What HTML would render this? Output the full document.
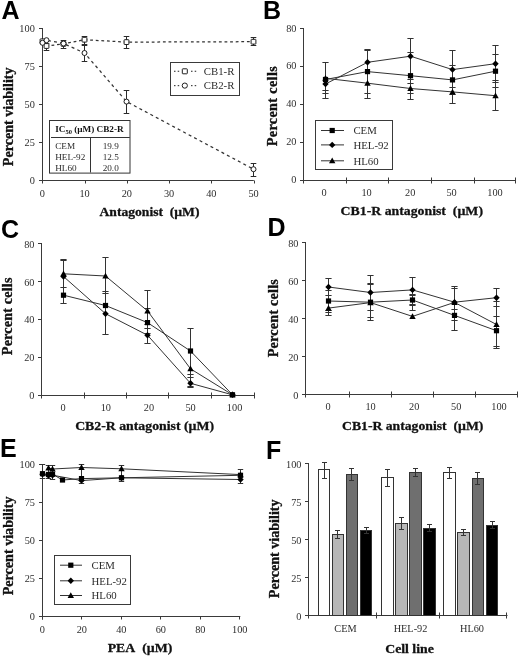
<!DOCTYPE html>
<html><head><meta charset="utf-8"><style>
html,body{margin:0;padding:0;background:#fff;}
svg{display:block;filter:blur(0.3px);}
</style></head><body>
<svg width="520" height="657" viewBox="0 0 520 657">
<rect width="520" height="657" fill="#fff"/>
<text x="1.5" y="19" font-family='"Liberation Sans", sans-serif' font-size="25" font-weight="bold" text-anchor="start" fill="#000">A</text>
<text x="263" y="19" font-family='"Liberation Sans", sans-serif' font-size="25" font-weight="bold" text-anchor="start" fill="#000">B</text>
<text x="1" y="237.6" font-family='"Liberation Sans", sans-serif' font-size="25" font-weight="bold" text-anchor="start" fill="#000">C</text>
<text x="267.5" y="236" font-family='"Liberation Sans", sans-serif' font-size="25" font-weight="bold" text-anchor="start" fill="#000">D</text>
<text x="0" y="457" font-family='"Liberation Sans", sans-serif' font-size="25" font-weight="bold" text-anchor="start" fill="#000">E</text>
<text x="266" y="459" font-family='"Liberation Sans", sans-serif' font-size="25" font-weight="bold" text-anchor="start" fill="#000">F</text>
<line x1="42.5" y1="28" x2="42.5" y2="183" stroke="#3a3a3a" stroke-width="1"/>
<line x1="39" y1="180.5" x2="253.8" y2="180.5" stroke="#3a3a3a" stroke-width="1"/>
<line x1="39" y1="180.5" x2="42.5" y2="180.5" stroke="#3a3a3a" stroke-width="1"/>
<text x="34.8" y="183.7" font-family='"Liberation Serif", serif' font-size="10.3" font-weight="normal" text-anchor="end" fill="#2c2c2c">0</text>
<line x1="39" y1="142.5" x2="42.5" y2="142.5" stroke="#3a3a3a" stroke-width="1"/>
<text x="34.8" y="145.75" font-family='"Liberation Serif", serif' font-size="10.3" font-weight="normal" text-anchor="end" fill="#2c2c2c">25</text>
<line x1="39" y1="104.5" x2="42.5" y2="104.5" stroke="#3a3a3a" stroke-width="1"/>
<text x="34.8" y="107.8" font-family='"Liberation Serif", serif' font-size="10.3" font-weight="normal" text-anchor="end" fill="#2c2c2c">50</text>
<line x1="39" y1="66.5" x2="42.5" y2="66.5" stroke="#3a3a3a" stroke-width="1"/>
<text x="34.8" y="69.85" font-family='"Liberation Serif", serif' font-size="10.3" font-weight="normal" text-anchor="end" fill="#2c2c2c">75</text>
<line x1="39" y1="28.5" x2="42.5" y2="28.5" stroke="#3a3a3a" stroke-width="1"/>
<text x="34.8" y="31.9" font-family='"Liberation Serif", serif' font-size="10.3" font-weight="normal" text-anchor="end" fill="#2c2c2c">100</text>
<line x1="42.5" y1="180.5" x2="42.5" y2="183.5" stroke="#3a3a3a" stroke-width="1"/>
<text x="42.3" y="196.6" font-family='"Liberation Serif", serif' font-size="10.3" font-weight="normal" text-anchor="middle" fill="#2c2c2c">0</text>
<line x1="85.5" y1="180.5" x2="85.5" y2="183.5" stroke="#3a3a3a" stroke-width="1"/>
<text x="84.55" y="196.6" font-family='"Liberation Serif", serif' font-size="10.3" font-weight="normal" text-anchor="middle" fill="#2c2c2c">10</text>
<line x1="127.5" y1="180.5" x2="127.5" y2="183.5" stroke="#3a3a3a" stroke-width="1"/>
<text x="126.8" y="196.6" font-family='"Liberation Serif", serif' font-size="10.3" font-weight="normal" text-anchor="middle" fill="#2c2c2c">20</text>
<line x1="169.5" y1="180.5" x2="169.5" y2="183.5" stroke="#3a3a3a" stroke-width="1"/>
<text x="169.05" y="196.6" font-family='"Liberation Serif", serif' font-size="10.3" font-weight="normal" text-anchor="middle" fill="#2c2c2c">30</text>
<line x1="211.5" y1="180.5" x2="211.5" y2="183.5" stroke="#3a3a3a" stroke-width="1"/>
<text x="211.3" y="196.6" font-family='"Liberation Serif", serif' font-size="10.3" font-weight="normal" text-anchor="middle" fill="#2c2c2c">40</text>
<line x1="254.5" y1="180.5" x2="254.5" y2="183.5" stroke="#3a3a3a" stroke-width="1"/>
<text x="253.55" y="196.6" font-family='"Liberation Serif", serif' font-size="10.3" font-weight="normal" text-anchor="middle" fill="#2c2c2c">50</text>
<text x="0" y="0" font-family='"Liberation Serif", serif' font-size="13.6" font-weight="bold" text-anchor="middle" fill="#111" stroke="#111" stroke-width="0.3" transform="translate(149.5 215.8) scale(1 0.88)">Antagonist&#160; (µM)</text>
<text x="12.6" y="116.8" font-family='"Liberation Serif", serif' font-size="14.1" font-weight="bold" text-anchor="middle" fill="#111" stroke="#111" stroke-width="0.3" transform="rotate(-90 12.6 116.8)">Percent viability</text>
<line x1="46.5" y1="43.5" x2="46.5" y2="50.5" stroke="#2a2a2a" stroke-width="1"/>
<line x1="43.7" y1="43.5" x2="49.3" y2="43.5" stroke="#2a2a2a" stroke-width="1"/>
<line x1="43.7" y1="50.5" x2="49.3" y2="50.5" stroke="#2a2a2a" stroke-width="1"/>
<line x1="63.5" y1="40.5" x2="63.5" y2="48.5" stroke="#2a2a2a" stroke-width="1"/>
<line x1="60.7" y1="40.5" x2="66.3" y2="40.5" stroke="#2a2a2a" stroke-width="1"/>
<line x1="60.7" y1="48.5" x2="66.3" y2="48.5" stroke="#2a2a2a" stroke-width="1"/>
<line x1="84.5" y1="36.5" x2="84.5" y2="61.5" stroke="#2a2a2a" stroke-width="1"/>
<line x1="81.7" y1="36.5" x2="87.3" y2="36.5" stroke="#2a2a2a" stroke-width="1"/>
<line x1="81.7" y1="44.5" x2="87.3" y2="44.5" stroke="#2a2a2a" stroke-width="1"/>
<line x1="81.7" y1="45.5" x2="87.3" y2="45.5" stroke="#2a2a2a" stroke-width="1"/>
<line x1="81.7" y1="61.5" x2="87.3" y2="61.5" stroke="#2a2a2a" stroke-width="1"/>
<line x1="126.5" y1="36.5" x2="126.5" y2="48.5" stroke="#2a2a2a" stroke-width="1"/>
<line x1="123.7" y1="36.5" x2="129.3" y2="36.5" stroke="#2a2a2a" stroke-width="1"/>
<line x1="123.7" y1="48.5" x2="129.3" y2="48.5" stroke="#2a2a2a" stroke-width="1"/>
<line x1="126.5" y1="90.5" x2="126.5" y2="113.5" stroke="#2a2a2a" stroke-width="1"/>
<line x1="123.7" y1="90.5" x2="129.3" y2="90.5" stroke="#2a2a2a" stroke-width="1"/>
<line x1="123.7" y1="113.5" x2="129.3" y2="113.5" stroke="#2a2a2a" stroke-width="1"/>
<line x1="253.5" y1="37.5" x2="253.5" y2="45.5" stroke="#2a2a2a" stroke-width="1"/>
<line x1="250.7" y1="37.5" x2="256.3" y2="37.5" stroke="#2a2a2a" stroke-width="1"/>
<line x1="250.7" y1="45.5" x2="256.3" y2="45.5" stroke="#2a2a2a" stroke-width="1"/>
<line x1="253.5" y1="163.5" x2="253.5" y2="176.5" stroke="#2a2a2a" stroke-width="1"/>
<line x1="250.7" y1="163.5" x2="256.3" y2="163.5" stroke="#2a2a2a" stroke-width="1"/>
<line x1="250.7" y1="176.5" x2="256.3" y2="176.5" stroke="#2a2a2a" stroke-width="1"/>
<polyline points="42.5,41.3 46.5,46 63.5,43.9 84.5,39.7 126.5,42.1 253.5,41.7" fill="none" stroke="#333" stroke-width="1.25" stroke-dasharray="2.8 2.8"/>
<polyline points="42.5,42.8 46.5,40.2 63.5,43.5 84.5,53 126.5,101.6 253.5,169.2" fill="none" stroke="#333" stroke-width="1.25" stroke-dasharray="3 3.2"/>
<rect x="40.1" y="38.9" width="4.8" height="4.8" rx="0.5" fill="#fff" stroke="#1e1e1e" stroke-width="1"/>
<rect x="44.1" y="43.6" width="4.8" height="4.8" rx="0.5" fill="#fff" stroke="#1e1e1e" stroke-width="1"/>
<rect x="61.1" y="41.5" width="4.8" height="4.8" rx="0.5" fill="#fff" stroke="#1e1e1e" stroke-width="1"/>
<rect x="82.1" y="37.3" width="4.8" height="4.8" rx="0.5" fill="#fff" stroke="#1e1e1e" stroke-width="1"/>
<rect x="124.1" y="39.7" width="4.8" height="4.8" rx="0.5" fill="#fff" stroke="#1e1e1e" stroke-width="1"/>
<rect x="251.1" y="39.3" width="4.8" height="4.8" rx="0.5" fill="#fff" stroke="#1e1e1e" stroke-width="1"/>
<circle cx="42.5" cy="42.8" r="2.5" fill="#fff" stroke="#1e1e1e" stroke-width="1"/>
<circle cx="46.5" cy="40.2" r="2.5" fill="#fff" stroke="#1e1e1e" stroke-width="1"/>
<circle cx="63.5" cy="43.5" r="2.5" fill="#fff" stroke="#1e1e1e" stroke-width="1"/>
<circle cx="84.5" cy="53" r="2.5" fill="#fff" stroke="#1e1e1e" stroke-width="1"/>
<circle cx="126.5" cy="101.6" r="2.5" fill="#fff" stroke="#1e1e1e" stroke-width="1"/>
<circle cx="253.5" cy="169.2" r="2.5" fill="#fff" stroke="#1e1e1e" stroke-width="1"/>
<rect x="170.5" y="62.5" width="69" height="33" fill="none" stroke="#3a3a3a" stroke-width="1"/>
<rect x="174.0" y="70.7" width="1.5" height="1.2" fill="#444"/>
<rect x="177.7" y="70.7" width="1.5" height="1.2" fill="#444"/>
<rect x="191.0" y="70.7" width="1.5" height="1.2" fill="#444"/>
<rect x="194.7" y="70.7" width="1.5" height="1.2" fill="#444"/>
<rect x="182.3" y="68.8" width="5" height="5" rx="0.6" fill="#fff" stroke="#1e1e1e" stroke-width="1"/>
<rect x="174.0" y="85" width="1.5" height="1.2" fill="#444"/>
<rect x="177.7" y="85" width="1.5" height="1.2" fill="#444"/>
<rect x="191.0" y="85" width="1.5" height="1.2" fill="#444"/>
<rect x="194.7" y="85" width="1.5" height="1.2" fill="#444"/>
<circle cx="184.8" cy="85.6" r="2.6" fill="#fff" stroke="#1e1e1e" stroke-width="1"/>
<text x="203.8" y="75" font-family='"Liberation Serif", serif' font-size="10.8" font-weight="normal" text-anchor="start" fill="#2c2c2c">CB1-R</text>
<text x="203.8" y="89.3" font-family='"Liberation Serif", serif' font-size="10.8" font-weight="normal" text-anchor="start" fill="#2c2c2c">CB2-R</text>
<rect x="49.5" y="120.5" width="80.5" height="52.6" fill="none" stroke="#333" stroke-width="1"/>
<line x1="51" y1="137.5" x2="129.8" y2="137.5" stroke="#333" stroke-width="1"/>
<line x1="90.5" y1="137.5" x2="90.5" y2="172.5" stroke="#333" stroke-width="1"/>
<text x="55.2" y="131.8" font-family='"Liberation Serif", serif' font-size="9.2" font-weight="bold" fill="#111">IC<tspan font-size="6.5" dy="2.5">50</tspan><tspan dy="-2.5"> (µM) CB2-R</tspan></text>
<text x="55.2" y="149" font-family='"Liberation Serif", serif' font-size="9.2" font-weight="normal" text-anchor="start" fill="#2c2c2c">CEM</text>
<text x="110.7" y="149" font-family='"Liberation Serif", serif' font-size="9.2" font-weight="normal" text-anchor="middle" fill="#2c2c2c">19.9</text>
<text x="55.2" y="159.9" font-family='"Liberation Serif", serif' font-size="9.2" font-weight="normal" text-anchor="start" fill="#2c2c2c">HEL-92</text>
<text x="110.7" y="159.9" font-family='"Liberation Serif", serif' font-size="9.2" font-weight="normal" text-anchor="middle" fill="#2c2c2c">12.5</text>
<text x="55.2" y="170.8" font-family='"Liberation Serif", serif' font-size="9.2" font-weight="normal" text-anchor="start" fill="#2c2c2c">HL60</text>
<text x="110.7" y="170.8" font-family='"Liberation Serif", serif' font-size="9.2" font-weight="normal" text-anchor="middle" fill="#2c2c2c">20.0</text>
<line x1="303.5" y1="28" x2="303.5" y2="183.5" stroke="#3a3a3a" stroke-width="1"/>
<line x1="300" y1="180.5" x2="515.6" y2="180.5" stroke="#3a3a3a" stroke-width="1"/>
<line x1="300" y1="180.5" x2="303.5" y2="180.5" stroke="#3a3a3a" stroke-width="1"/>
<text x="296.5" y="183.1" font-family='"Liberation Serif", serif' font-size="10.3" font-weight="normal" text-anchor="end" fill="#303030">0</text>
<line x1="300" y1="142.5" x2="303.5" y2="142.5" stroke="#3a3a3a" stroke-width="1"/>
<text x="296.5" y="145.2" font-family='"Liberation Serif", serif' font-size="10.3" font-weight="normal" text-anchor="end" fill="#303030">20</text>
<line x1="300" y1="104.5" x2="303.5" y2="104.5" stroke="#3a3a3a" stroke-width="1"/>
<text x="296.5" y="107.3" font-family='"Liberation Serif", serif' font-size="10.3" font-weight="normal" text-anchor="end" fill="#303030">40</text>
<line x1="300" y1="66.5" x2="303.5" y2="66.5" stroke="#3a3a3a" stroke-width="1"/>
<text x="296.5" y="69.4" font-family='"Liberation Serif", serif' font-size="10.3" font-weight="normal" text-anchor="end" fill="#303030">60</text>
<line x1="300" y1="28.5" x2="303.5" y2="28.5" stroke="#3a3a3a" stroke-width="1"/>
<text x="296.5" y="31.5" font-family='"Liberation Serif", serif' font-size="10.3" font-weight="normal" text-anchor="end" fill="#303030">80</text>
<line x1="346.5" y1="177.5" x2="346.5" y2="183.5" stroke="#3a3a3a" stroke-width="1"/>
<line x1="388.5" y1="177.5" x2="388.5" y2="183.5" stroke="#3a3a3a" stroke-width="1"/>
<line x1="431.5" y1="177.5" x2="431.5" y2="183.5" stroke="#3a3a3a" stroke-width="1"/>
<line x1="474.5" y1="177.5" x2="474.5" y2="183.5" stroke="#3a3a3a" stroke-width="1"/>
<line x1="515.5" y1="177.5" x2="515.5" y2="183.5" stroke="#3a3a3a" stroke-width="1"/>
<text x="324.2" y="196.3" font-family='"Liberation Serif", serif' font-size="10.3" font-weight="normal" text-anchor="middle" fill="#303030">0</text>
<text x="366.6" y="196.3" font-family='"Liberation Serif", serif' font-size="10.3" font-weight="normal" text-anchor="middle" fill="#303030">10</text>
<text x="410.2" y="196.3" font-family='"Liberation Serif", serif' font-size="10.3" font-weight="normal" text-anchor="middle" fill="#303030">20</text>
<text x="451.6" y="196.3" font-family='"Liberation Serif", serif' font-size="10.3" font-weight="normal" text-anchor="middle" fill="#303030">50</text>
<text x="495" y="196.3" font-family='"Liberation Serif", serif' font-size="10.3" font-weight="normal" text-anchor="middle" fill="#303030">100</text>
<text x="0" y="0" font-family='"Liberation Serif", serif' font-size="13.8" font-weight="bold" text-anchor="middle" fill="#111" stroke="#111" stroke-width="0.3" transform="translate(411.8 214.7) scale(1 0.87)" xml:space="preserve">CB1-R antagonist&#160; (µM)</text>
<text x="277.2" y="106.1" font-family='"Liberation Serif", serif' font-size="14.2" font-weight="bold" text-anchor="middle" fill="#111" stroke="#111" stroke-width="0.3" transform="rotate(-90 277.2 106.1)" letter-spacing="0.35">Percent cells</text>
<line x1="325.5" y1="62.5" x2="325.5" y2="98.5" stroke="#333" stroke-width="1"/>
<line x1="322.4" y1="62.5" x2="328.6" y2="62.5" stroke="#333" stroke-width="1"/>
<line x1="322.4" y1="90.5" x2="328.6" y2="90.5" stroke="#333" stroke-width="1"/>
<line x1="322.4" y1="93.5" x2="328.6" y2="93.5" stroke="#333" stroke-width="1"/>
<line x1="322.4" y1="98.5" x2="328.6" y2="98.5" stroke="#333" stroke-width="1"/>
<line x1="367.5" y1="49.5" x2="367.5" y2="98.5" stroke="#333" stroke-width="1"/>
<line x1="364.4" y1="49.5" x2="370.6" y2="49.5" stroke="#333" stroke-width="1"/>
<line x1="364.4" y1="50.5" x2="370.6" y2="50.5" stroke="#333" stroke-width="1"/>
<line x1="364.4" y1="93.5" x2="370.6" y2="93.5" stroke="#333" stroke-width="1"/>
<line x1="364.4" y1="98.5" x2="370.6" y2="98.5" stroke="#333" stroke-width="1"/>
<line x1="410.5" y1="38.5" x2="410.5" y2="99.5" stroke="#333" stroke-width="1"/>
<line x1="407.4" y1="38.5" x2="413.6" y2="38.5" stroke="#333" stroke-width="1"/>
<line x1="407.4" y1="52.5" x2="413.6" y2="52.5" stroke="#333" stroke-width="1"/>
<line x1="407.4" y1="79.5" x2="413.6" y2="79.5" stroke="#333" stroke-width="1"/>
<line x1="407.4" y1="83.5" x2="413.6" y2="83.5" stroke="#333" stroke-width="1"/>
<line x1="407.4" y1="93.5" x2="413.6" y2="93.5" stroke="#333" stroke-width="1"/>
<line x1="407.4" y1="99.5" x2="413.6" y2="99.5" stroke="#333" stroke-width="1"/>
<line x1="452.5" y1="50.5" x2="452.5" y2="103.5" stroke="#333" stroke-width="1"/>
<line x1="449.4" y1="50.5" x2="455.6" y2="50.5" stroke="#333" stroke-width="1"/>
<line x1="449.4" y1="65.5" x2="455.6" y2="65.5" stroke="#333" stroke-width="1"/>
<line x1="449.4" y1="87.5" x2="455.6" y2="87.5" stroke="#333" stroke-width="1"/>
<line x1="449.4" y1="94.5" x2="455.6" y2="94.5" stroke="#333" stroke-width="1"/>
<line x1="449.4" y1="103.5" x2="455.6" y2="103.5" stroke="#333" stroke-width="1"/>
<line x1="495.5" y1="45.5" x2="495.5" y2="110.5" stroke="#333" stroke-width="1"/>
<line x1="492.4" y1="45.5" x2="498.6" y2="45.5" stroke="#333" stroke-width="1"/>
<line x1="492.4" y1="54.5" x2="498.6" y2="54.5" stroke="#333" stroke-width="1"/>
<line x1="492.4" y1="80.5" x2="498.6" y2="80.5" stroke="#333" stroke-width="1"/>
<line x1="492.4" y1="82.5" x2="498.6" y2="82.5" stroke="#333" stroke-width="1"/>
<line x1="492.4" y1="87.5" x2="498.6" y2="87.5" stroke="#333" stroke-width="1"/>
<line x1="492.4" y1="110.5" x2="498.6" y2="110.5" stroke="#333" stroke-width="1"/>
<polyline points="325.5,79.5 367.5,71.6 410.5,75.7 452.5,79.9 495.5,71.2" fill="none" stroke="#333" stroke-width="1"/>
<polyline points="325.5,84 367.5,62.3 410.5,56.2 452.5,69.6 495.5,63.7" fill="none" stroke="#333" stroke-width="1"/>
<polyline points="325.5,78.3 367.5,83.2 410.5,88.5 452.5,91.9 495.5,95.7" fill="none" stroke="#333" stroke-width="1"/>
<rect x="322.9" y="76.9" width="5.2" height="5.2" fill="#000" stroke="none" stroke-width="1"/>
<rect x="364.9" y="69" width="5.2" height="5.2" fill="#000" stroke="none" stroke-width="1"/>
<rect x="407.9" y="73.1" width="5.2" height="5.2" fill="#000" stroke="none" stroke-width="1"/>
<rect x="449.9" y="77.3" width="5.2" height="5.2" fill="#000" stroke="none" stroke-width="1"/>
<rect x="492.9" y="68.6" width="5.2" height="5.2" fill="#000" stroke="none" stroke-width="1"/>
<path d="M325.5 80.8L328.7 84L325.5 87.2L322.3 84Z" fill="#000"/>
<path d="M367.5 59.1L370.7 62.3L367.5 65.5L364.3 62.3Z" fill="#000"/>
<path d="M410.5 53L413.7 56.2L410.5 59.4L407.3 56.2Z" fill="#000"/>
<path d="M452.5 66.4L455.7 69.6L452.5 72.8L449.3 69.6Z" fill="#000"/>
<path d="M495.5 60.5L498.7 63.7L495.5 66.9L492.3 63.7Z" fill="#000"/>
<path d="M325.5 75.1L328.7 80.86L322.3 80.86Z" fill="#000"/>
<path d="M367.5 80L370.7 85.76L364.3 85.76Z" fill="#000"/>
<path d="M410.5 85.3L413.7 91.06L407.3 91.06Z" fill="#000"/>
<path d="M452.5 88.7L455.7 94.46L449.3 94.46Z" fill="#000"/>
<path d="M495.5 92.5L498.7 98.26L492.3 98.26Z" fill="#000"/>
<rect x="315.5" y="120.5" width="77" height="49" fill="none" stroke="#3a3a3a" stroke-width="1"/>
<line x1="321" y1="130.5" x2="344" y2="130.5" stroke="#333" stroke-width="1"/>
<rect x="329.6" y="127.9" width="5.2" height="5.2" fill="#000" stroke="none" stroke-width="1"/>
<text x="353.4" y="134.2" font-family='"Liberation Serif", serif' font-size="10.8" font-weight="normal" text-anchor="start" fill="#2c2c2c">CEM</text>
<line x1="321" y1="144.9" x2="344" y2="144.9" stroke="#333" stroke-width="1"/>
<path d="M332.2 141.7L335.4 144.9L332.2 148.1L329 144.9Z" fill="#000"/>
<text x="353.4" y="148.6" font-family='"Liberation Serif", serif' font-size="10.8" font-weight="normal" text-anchor="start" fill="#2c2c2c">HEL-92</text>
<line x1="321" y1="160.8" x2="344" y2="160.8" stroke="#333" stroke-width="1"/>
<path d="M332.2 157.6L335.4 163.36L329 163.36Z" fill="#000"/>
<text x="353.4" y="164.5" font-family='"Liberation Serif", serif' font-size="10.8" font-weight="normal" text-anchor="start" fill="#2c2c2c">HL60</text>
<line x1="41.5" y1="243" x2="41.5" y2="398.5" stroke="#3a3a3a" stroke-width="1"/>
<line x1="38" y1="395.5" x2="254" y2="395.5" stroke="#3a3a3a" stroke-width="1"/>
<line x1="38" y1="395.5" x2="41.5" y2="395.5" stroke="#3a3a3a" stroke-width="1"/>
<text x="34.5" y="399.2" font-family='"Liberation Serif", serif' font-size="10.3" font-weight="normal" text-anchor="end" fill="#303030">0</text>
<line x1="38" y1="357.5" x2="41.5" y2="357.5" stroke="#3a3a3a" stroke-width="1"/>
<text x="34.5" y="361.3" font-family='"Liberation Serif", serif' font-size="10.3" font-weight="normal" text-anchor="end" fill="#303030">20</text>
<line x1="38" y1="319.5" x2="41.5" y2="319.5" stroke="#3a3a3a" stroke-width="1"/>
<text x="34.5" y="323.4" font-family='"Liberation Serif", serif' font-size="10.3" font-weight="normal" text-anchor="end" fill="#303030">40</text>
<line x1="38" y1="281.5" x2="41.5" y2="281.5" stroke="#3a3a3a" stroke-width="1"/>
<text x="34.5" y="285.5" font-family='"Liberation Serif", serif' font-size="10.3" font-weight="normal" text-anchor="end" fill="#303030">60</text>
<line x1="38" y1="243.5" x2="41.5" y2="243.5" stroke="#3a3a3a" stroke-width="1"/>
<text x="34.5" y="247.6" font-family='"Liberation Serif", serif' font-size="10.3" font-weight="normal" text-anchor="end" fill="#303030">80</text>
<line x1="84.5" y1="392.5" x2="84.5" y2="398.5" stroke="#3a3a3a" stroke-width="1"/>
<line x1="126.5" y1="392.5" x2="126.5" y2="398.5" stroke="#3a3a3a" stroke-width="1"/>
<line x1="168.5" y1="392.5" x2="168.5" y2="398.5" stroke="#3a3a3a" stroke-width="1"/>
<line x1="211.5" y1="392.5" x2="211.5" y2="398.5" stroke="#3a3a3a" stroke-width="1"/>
<line x1="254.5" y1="392.5" x2="254.5" y2="398.5" stroke="#3a3a3a" stroke-width="1"/>
<text x="63" y="411.3" font-family='"Liberation Serif", serif' font-size="10.3" font-weight="normal" text-anchor="middle" fill="#303030">0</text>
<text x="105.8" y="411.3" font-family='"Liberation Serif", serif' font-size="10.3" font-weight="normal" text-anchor="middle" fill="#303030">10</text>
<text x="149" y="411.3" font-family='"Liberation Serif", serif' font-size="10.3" font-weight="normal" text-anchor="middle" fill="#303030">20</text>
<text x="190.6" y="411.3" font-family='"Liberation Serif", serif' font-size="10.3" font-weight="normal" text-anchor="middle" fill="#303030">50</text>
<text x="234.6" y="411.3" font-family='"Liberation Serif", serif' font-size="10.3" font-weight="normal" text-anchor="middle" fill="#303030">100</text>
<text x="0" y="0" font-family='"Liberation Serif", serif' font-size="13.8" font-weight="bold" text-anchor="middle" fill="#111" stroke="#111" stroke-width="0.3" transform="translate(144.6 430.4) scale(1 0.87)" xml:space="preserve">CB2-R antagonist (µM)</text>
<text x="12.5" y="316.3" font-family='"Liberation Serif", serif' font-size="14.2" font-weight="bold" text-anchor="middle" fill="#111" stroke="#111" stroke-width="0.3" transform="rotate(-90 12.5 316.3)" letter-spacing="0.15">Percent cells</text>
<line x1="63.5" y1="259.5" x2="63.5" y2="303.5" stroke="#333" stroke-width="1"/>
<line x1="60.4" y1="259.5" x2="66.6" y2="259.5" stroke="#333" stroke-width="1"/>
<line x1="60.4" y1="260.5" x2="66.6" y2="260.5" stroke="#333" stroke-width="1"/>
<line x1="60.4" y1="287.5" x2="66.6" y2="287.5" stroke="#333" stroke-width="1"/>
<line x1="60.4" y1="303.5" x2="66.6" y2="303.5" stroke="#333" stroke-width="1"/>
<line x1="105.5" y1="257.5" x2="105.5" y2="334.5" stroke="#333" stroke-width="1"/>
<line x1="102.4" y1="257.5" x2="108.6" y2="257.5" stroke="#333" stroke-width="1"/>
<line x1="102.4" y1="291.5" x2="108.6" y2="291.5" stroke="#333" stroke-width="1"/>
<line x1="102.4" y1="293.5" x2="108.6" y2="293.5" stroke="#333" stroke-width="1"/>
<line x1="102.4" y1="334.5" x2="108.6" y2="334.5" stroke="#333" stroke-width="1"/>
<line x1="147.5" y1="290.5" x2="147.5" y2="343.5" stroke="#333" stroke-width="1"/>
<line x1="144.4" y1="290.5" x2="150.6" y2="290.5" stroke="#333" stroke-width="1"/>
<line x1="144.4" y1="308.5" x2="150.6" y2="308.5" stroke="#333" stroke-width="1"/>
<line x1="144.4" y1="324.5" x2="150.6" y2="324.5" stroke="#333" stroke-width="1"/>
<line x1="144.4" y1="328.5" x2="150.6" y2="328.5" stroke="#333" stroke-width="1"/>
<line x1="144.4" y1="333.5" x2="150.6" y2="333.5" stroke="#333" stroke-width="1"/>
<line x1="144.4" y1="343.5" x2="150.6" y2="343.5" stroke="#333" stroke-width="1"/>
<line x1="190.5" y1="328.5" x2="190.5" y2="387.5" stroke="#333" stroke-width="1"/>
<line x1="187.4" y1="328.5" x2="193.6" y2="328.5" stroke="#333" stroke-width="1"/>
<line x1="187.4" y1="374.5" x2="193.6" y2="374.5" stroke="#333" stroke-width="1"/>
<line x1="187.4" y1="377.5" x2="193.6" y2="377.5" stroke="#333" stroke-width="1"/>
<line x1="187.4" y1="386.5" x2="193.6" y2="386.5" stroke="#333" stroke-width="1"/>
<line x1="187.4" y1="387.5" x2="193.6" y2="387.5" stroke="#333" stroke-width="1"/>
<polyline points="63.5,295.2 105.5,305.5 147.5,322.6 190.5,351 232.5,394.8" fill="none" stroke="#333" stroke-width="1"/>
<polyline points="63.5,276.5 105.5,313.7 147.5,335.2 190.5,383.3 232.5,394.8" fill="none" stroke="#333" stroke-width="1"/>
<polyline points="63.5,273.8 105.5,276 147.5,310.9 190.5,368.8 232.5,394.8" fill="none" stroke="#333" stroke-width="1"/>
<rect x="60.9" y="292.6" width="5.2" height="5.2" fill="#000" stroke="none" stroke-width="1"/>
<rect x="102.9" y="302.9" width="5.2" height="5.2" fill="#000" stroke="none" stroke-width="1"/>
<rect x="144.9" y="320" width="5.2" height="5.2" fill="#000" stroke="none" stroke-width="1"/>
<rect x="187.9" y="348.4" width="5.2" height="5.2" fill="#000" stroke="none" stroke-width="1"/>
<rect x="229.9" y="392.2" width="5.2" height="5.2" fill="#000" stroke="none" stroke-width="1"/>
<path d="M63.5 273.3L66.7 276.5L63.5 279.7L60.3 276.5Z" fill="#000"/>
<path d="M105.5 310.5L108.7 313.7L105.5 316.9L102.3 313.7Z" fill="#000"/>
<path d="M147.5 332L150.7 335.2L147.5 338.4L144.3 335.2Z" fill="#000"/>
<path d="M190.5 380.1L193.7 383.3L190.5 386.5L187.3 383.3Z" fill="#000"/>
<path d="M232.5 391.6L235.7 394.8L232.5 398L229.3 394.8Z" fill="#000"/>
<path d="M63.5 270.6L66.7 276.36L60.3 276.36Z" fill="#000"/>
<path d="M105.5 272.8L108.7 278.56L102.3 278.56Z" fill="#000"/>
<path d="M147.5 307.7L150.7 313.46L144.3 313.46Z" fill="#000"/>
<path d="M190.5 365.6L193.7 371.36L187.3 371.36Z" fill="#000"/>
<path d="M232.5 391.6L235.7 397.36L229.3 397.36Z" fill="#000"/>
<line x1="305.5" y1="242" x2="305.5" y2="397.5" stroke="#3a3a3a" stroke-width="1"/>
<line x1="302" y1="394.5" x2="517.3" y2="394.5" stroke="#3a3a3a" stroke-width="1"/>
<line x1="302" y1="394.5" x2="305.5" y2="394.5" stroke="#3a3a3a" stroke-width="1"/>
<text x="298.5" y="398.6" font-family='"Liberation Serif", serif' font-size="10.3" font-weight="normal" text-anchor="end" fill="#303030">0</text>
<line x1="302" y1="356.5" x2="305.5" y2="356.5" stroke="#3a3a3a" stroke-width="1"/>
<text x="298.5" y="360.65" font-family='"Liberation Serif", serif' font-size="10.3" font-weight="normal" text-anchor="end" fill="#303030">20</text>
<line x1="302" y1="318.5" x2="305.5" y2="318.5" stroke="#3a3a3a" stroke-width="1"/>
<text x="298.5" y="322.7" font-family='"Liberation Serif", serif' font-size="10.3" font-weight="normal" text-anchor="end" fill="#303030">40</text>
<line x1="302" y1="280.5" x2="305.5" y2="280.5" stroke="#3a3a3a" stroke-width="1"/>
<text x="298.5" y="284.75" font-family='"Liberation Serif", serif' font-size="10.3" font-weight="normal" text-anchor="end" fill="#303030">60</text>
<line x1="302" y1="242.5" x2="305.5" y2="242.5" stroke="#3a3a3a" stroke-width="1"/>
<text x="298.5" y="246.8" font-family='"Liberation Serif", serif' font-size="10.3" font-weight="normal" text-anchor="end" fill="#303030">80</text>
<line x1="349.5" y1="391.5" x2="349.5" y2="397.5" stroke="#3a3a3a" stroke-width="1"/>
<line x1="391.5" y1="391.5" x2="391.5" y2="397.5" stroke="#3a3a3a" stroke-width="1"/>
<line x1="433.5" y1="391.5" x2="433.5" y2="397.5" stroke="#3a3a3a" stroke-width="1"/>
<line x1="475.5" y1="391.5" x2="475.5" y2="397.5" stroke="#3a3a3a" stroke-width="1"/>
<line x1="517.5" y1="391.5" x2="517.5" y2="397.5" stroke="#3a3a3a" stroke-width="1"/>
<text x="328.2" y="410.3" font-family='"Liberation Serif", serif' font-size="10.3" font-weight="normal" text-anchor="middle" fill="#303030">0</text>
<text x="370.6" y="410.3" font-family='"Liberation Serif", serif' font-size="10.3" font-weight="normal" text-anchor="middle" fill="#303030">10</text>
<text x="414.2" y="410.3" font-family='"Liberation Serif", serif' font-size="10.3" font-weight="normal" text-anchor="middle" fill="#303030">20</text>
<text x="456.2" y="410.3" font-family='"Liberation Serif", serif' font-size="10.3" font-weight="normal" text-anchor="middle" fill="#303030">50</text>
<text x="499" y="410.3" font-family='"Liberation Serif", serif' font-size="10.3" font-weight="normal" text-anchor="middle" fill="#303030">100</text>
<text x="0" y="0" font-family='"Liberation Serif", serif' font-size="13.7" font-weight="bold" text-anchor="middle" fill="#111" stroke="#111" stroke-width="0.3" transform="translate(412.7 430.1) scale(1 0.87)" xml:space="preserve">CB1-R antagonist&#160; (µM)</text>
<text x="278.3" y="318.1" font-family='"Liberation Serif", serif' font-size="14.2" font-weight="bold" text-anchor="middle" fill="#111" stroke="#111" stroke-width="0.3" transform="rotate(-90 278.3 318.1)" letter-spacing="0.2">Percent cells</text>
<line x1="328.5" y1="278.5" x2="328.5" y2="315.5" stroke="#333" stroke-width="1"/>
<line x1="325.4" y1="278.5" x2="331.6" y2="278.5" stroke="#333" stroke-width="1"/>
<line x1="325.4" y1="290.5" x2="331.6" y2="290.5" stroke="#333" stroke-width="1"/>
<line x1="325.4" y1="295.5" x2="331.6" y2="295.5" stroke="#333" stroke-width="1"/>
<line x1="325.4" y1="310.5" x2="331.6" y2="310.5" stroke="#333" stroke-width="1"/>
<line x1="325.4" y1="312.5" x2="331.6" y2="312.5" stroke="#333" stroke-width="1"/>
<line x1="325.4" y1="315.5" x2="331.6" y2="315.5" stroke="#333" stroke-width="1"/>
<line x1="370.5" y1="275.5" x2="370.5" y2="320.5" stroke="#333" stroke-width="1"/>
<line x1="367.4" y1="275.5" x2="373.6" y2="275.5" stroke="#333" stroke-width="1"/>
<line x1="367.4" y1="283.5" x2="373.6" y2="283.5" stroke="#333" stroke-width="1"/>
<line x1="367.4" y1="284.5" x2="373.6" y2="284.5" stroke="#333" stroke-width="1"/>
<line x1="367.4" y1="310.5" x2="373.6" y2="310.5" stroke="#333" stroke-width="1"/>
<line x1="367.4" y1="317.5" x2="373.6" y2="317.5" stroke="#333" stroke-width="1"/>
<line x1="367.4" y1="320.5" x2="373.6" y2="320.5" stroke="#333" stroke-width="1"/>
<line x1="412.5" y1="277.5" x2="412.5" y2="310.5" stroke="#333" stroke-width="1"/>
<line x1="409.4" y1="277.5" x2="415.6" y2="277.5" stroke="#333" stroke-width="1"/>
<line x1="409.4" y1="294.5" x2="415.6" y2="294.5" stroke="#333" stroke-width="1"/>
<line x1="409.4" y1="295.5" x2="415.6" y2="295.5" stroke="#333" stroke-width="1"/>
<line x1="409.4" y1="304.5" x2="415.6" y2="304.5" stroke="#333" stroke-width="1"/>
<line x1="409.4" y1="305.5" x2="415.6" y2="305.5" stroke="#333" stroke-width="1"/>
<line x1="409.4" y1="310.5" x2="415.6" y2="310.5" stroke="#333" stroke-width="1"/>
<line x1="454.5" y1="286.5" x2="454.5" y2="330.5" stroke="#333" stroke-width="1"/>
<line x1="451.4" y1="286.5" x2="457.6" y2="286.5" stroke="#333" stroke-width="1"/>
<line x1="451.4" y1="288.5" x2="457.6" y2="288.5" stroke="#333" stroke-width="1"/>
<line x1="451.4" y1="309.5" x2="457.6" y2="309.5" stroke="#333" stroke-width="1"/>
<line x1="451.4" y1="320.5" x2="457.6" y2="320.5" stroke="#333" stroke-width="1"/>
<line x1="451.4" y1="330.5" x2="457.6" y2="330.5" stroke="#333" stroke-width="1"/>
<line x1="496.5" y1="288.5" x2="496.5" y2="348.5" stroke="#333" stroke-width="1"/>
<line x1="493.4" y1="288.5" x2="499.6" y2="288.5" stroke="#333" stroke-width="1"/>
<line x1="493.4" y1="301.5" x2="499.6" y2="301.5" stroke="#333" stroke-width="1"/>
<line x1="493.4" y1="306.5" x2="499.6" y2="306.5" stroke="#333" stroke-width="1"/>
<line x1="493.4" y1="316.5" x2="499.6" y2="316.5" stroke="#333" stroke-width="1"/>
<line x1="493.4" y1="346.5" x2="499.6" y2="346.5" stroke="#333" stroke-width="1"/>
<line x1="493.4" y1="348.5" x2="499.6" y2="348.5" stroke="#333" stroke-width="1"/>
<polyline points="328.5,301 370.5,302.2 412.5,300 454.5,315.4 496.5,330.7" fill="none" stroke="#333" stroke-width="1"/>
<polyline points="328.5,287 370.5,292.5 412.5,289.9 454.5,302.2 496.5,297.7" fill="none" stroke="#333" stroke-width="1"/>
<polyline points="328.5,308.1 370.5,302.6 412.5,316.4 454.5,302.4 496.5,324.5" fill="none" stroke="#333" stroke-width="1"/>
<rect x="325.9" y="298.4" width="5.2" height="5.2" fill="#000" stroke="none" stroke-width="1"/>
<rect x="367.9" y="299.6" width="5.2" height="5.2" fill="#000" stroke="none" stroke-width="1"/>
<rect x="409.9" y="297.4" width="5.2" height="5.2" fill="#000" stroke="none" stroke-width="1"/>
<rect x="451.9" y="312.8" width="5.2" height="5.2" fill="#000" stroke="none" stroke-width="1"/>
<rect x="493.9" y="328.1" width="5.2" height="5.2" fill="#000" stroke="none" stroke-width="1"/>
<path d="M328.5 283.8L331.7 287L328.5 290.2L325.3 287Z" fill="#000"/>
<path d="M370.5 289.3L373.7 292.5L370.5 295.7L367.3 292.5Z" fill="#000"/>
<path d="M412.5 286.7L415.7 289.9L412.5 293.1L409.3 289.9Z" fill="#000"/>
<path d="M454.5 299L457.7 302.2L454.5 305.4L451.3 302.2Z" fill="#000"/>
<path d="M496.5 294.5L499.7 297.7L496.5 300.9L493.3 297.7Z" fill="#000"/>
<path d="M328.5 304.9L331.7 310.66L325.3 310.66Z" fill="#000"/>
<path d="M370.5 299.4L373.7 305.16L367.3 305.16Z" fill="#000"/>
<path d="M412.5 313.2L415.7 318.96L409.3 318.96Z" fill="#000"/>
<path d="M454.5 299.2L457.7 304.96L451.3 304.96Z" fill="#000"/>
<path d="M496.5 321.3L499.7 327.06L493.3 327.06Z" fill="#000"/>
<line x1="42.5" y1="464" x2="42.5" y2="619.5" stroke="#3a3a3a" stroke-width="1"/>
<line x1="39" y1="616.5" x2="240.3" y2="616.5" stroke="#3a3a3a" stroke-width="1"/>
<line x1="39" y1="616.5" x2="42.5" y2="616.5" stroke="#3a3a3a" stroke-width="1"/>
<text x="35" y="619.8" font-family='"Liberation Serif", serif' font-size="10.3" font-weight="normal" text-anchor="end" fill="#2c2c2c">0</text>
<line x1="39" y1="578.5" x2="42.5" y2="578.5" stroke="#3a3a3a" stroke-width="1"/>
<text x="35" y="581.82" font-family='"Liberation Serif", serif' font-size="10.3" font-weight="normal" text-anchor="end" fill="#2c2c2c">25</text>
<line x1="39" y1="540.5" x2="42.5" y2="540.5" stroke="#3a3a3a" stroke-width="1"/>
<text x="35" y="543.85" font-family='"Liberation Serif", serif' font-size="10.3" font-weight="normal" text-anchor="end" fill="#2c2c2c">50</text>
<line x1="39" y1="502.5" x2="42.5" y2="502.5" stroke="#3a3a3a" stroke-width="1"/>
<text x="35" y="505.87" font-family='"Liberation Serif", serif' font-size="10.3" font-weight="normal" text-anchor="end" fill="#2c2c2c">75</text>
<line x1="39" y1="464.5" x2="42.5" y2="464.5" stroke="#3a3a3a" stroke-width="1"/>
<text x="35" y="467.9" font-family='"Liberation Serif", serif' font-size="10.3" font-weight="normal" text-anchor="end" fill="#2c2c2c">100</text>
<line x1="42.5" y1="616.5" x2="42.5" y2="619.5" stroke="#3a3a3a" stroke-width="1"/>
<text x="42.3" y="632.5" font-family='"Liberation Serif", serif' font-size="10.3" font-weight="normal" text-anchor="middle" fill="#2c2c2c">0</text>
<line x1="81.5" y1="616.5" x2="81.5" y2="619.5" stroke="#3a3a3a" stroke-width="1"/>
<text x="81.8" y="632.5" font-family='"Liberation Serif", serif' font-size="10.3" font-weight="normal" text-anchor="middle" fill="#2c2c2c">20</text>
<line x1="121.5" y1="616.5" x2="121.5" y2="619.5" stroke="#3a3a3a" stroke-width="1"/>
<text x="121.3" y="632.5" font-family='"Liberation Serif", serif' font-size="10.3" font-weight="normal" text-anchor="middle" fill="#2c2c2c">40</text>
<line x1="160.5" y1="616.5" x2="160.5" y2="619.5" stroke="#3a3a3a" stroke-width="1"/>
<text x="160.8" y="632.5" font-family='"Liberation Serif", serif' font-size="10.3" font-weight="normal" text-anchor="middle" fill="#2c2c2c">60</text>
<line x1="200.5" y1="616.5" x2="200.5" y2="619.5" stroke="#3a3a3a" stroke-width="1"/>
<text x="200.3" y="632.5" font-family='"Liberation Serif", serif' font-size="10.3" font-weight="normal" text-anchor="middle" fill="#2c2c2c">80</text>
<line x1="239.5" y1="616.5" x2="239.5" y2="619.5" stroke="#3a3a3a" stroke-width="1"/>
<text x="239.8" y="632.5" font-family='"Liberation Serif", serif' font-size="10.3" font-weight="normal" text-anchor="middle" fill="#2c2c2c">100</text>
<text x="0" y="0" font-family='"Liberation Serif", serif' font-size="13.8" font-weight="bold" text-anchor="middle" fill="#111" stroke="#111" stroke-width="0.3" transform="translate(140 652.1) scale(1 0.93)">PEA&#160; (µM)</text>
<text x="12.8" y="545.9" font-family='"Liberation Serif", serif' font-size="14.1" font-weight="bold" text-anchor="middle" fill="#111" stroke="#111" stroke-width="0.3" transform="rotate(-90 12.8 545.9)">Percent viability</text>
<line x1="42.5" y1="464.5" x2="42.5" y2="478.5" stroke="#333" stroke-width="1"/>
<line x1="39.8" y1="464.5" x2="45.2" y2="464.5" stroke="#333" stroke-width="1"/>
<line x1="39.8" y1="478.5" x2="45.2" y2="478.5" stroke="#333" stroke-width="1"/>
<line x1="48.5" y1="465.5" x2="48.5" y2="478.5" stroke="#333" stroke-width="1"/>
<line x1="45.8" y1="465.5" x2="51.2" y2="465.5" stroke="#333" stroke-width="1"/>
<line x1="45.8" y1="478.5" x2="51.2" y2="478.5" stroke="#333" stroke-width="1"/>
<line x1="52.5" y1="465.5" x2="52.5" y2="479.5" stroke="#333" stroke-width="1"/>
<line x1="49.8" y1="465.5" x2="55.2" y2="465.5" stroke="#333" stroke-width="1"/>
<line x1="49.8" y1="479.5" x2="55.2" y2="479.5" stroke="#333" stroke-width="1"/>
<line x1="81.5" y1="464.5" x2="81.5" y2="483.5" stroke="#333" stroke-width="1"/>
<line x1="78.8" y1="464.5" x2="84.2" y2="464.5" stroke="#333" stroke-width="1"/>
<line x1="78.8" y1="483.5" x2="84.2" y2="483.5" stroke="#333" stroke-width="1"/>
<line x1="121.5" y1="465.5" x2="121.5" y2="481.5" stroke="#333" stroke-width="1"/>
<line x1="118.8" y1="465.5" x2="124.2" y2="465.5" stroke="#333" stroke-width="1"/>
<line x1="118.8" y1="481.5" x2="124.2" y2="481.5" stroke="#333" stroke-width="1"/>
<line x1="240.5" y1="469.5" x2="240.5" y2="483.5" stroke="#333" stroke-width="1"/>
<line x1="237.8" y1="469.5" x2="243.2" y2="469.5" stroke="#333" stroke-width="1"/>
<line x1="237.8" y1="483.5" x2="243.2" y2="483.5" stroke="#333" stroke-width="1"/>
<polyline points="48.5,468 52.5,469 81.5,467.5 121.5,468.8 240.5,474.6" fill="none" stroke="#333" stroke-width="1"/>
<polyline points="42.5,473.7 48.5,474.5 52.5,474.2 62.5,480 81.5,478.6 121.5,477.8 240.5,475.3" fill="none" stroke="#333" stroke-width="1"/>
<polyline points="42.5,474.3 48.5,475.5 52.5,475.2 81.5,480.6 121.5,477.8 240.5,479.5" fill="none" stroke="#333" stroke-width="1"/>
<path d="M42.5 471.1L45.7 474.3L42.5 477.5L39.3 474.3Z" fill="#000"/>
<path d="M48.5 472.3L51.7 475.5L48.5 478.7L45.3 475.5Z" fill="#000"/>
<path d="M52.5 472L55.7 475.2L52.5 478.4L49.3 475.2Z" fill="#000"/>
<path d="M81.5 477.4L84.7 480.6L81.5 483.8L78.3 480.6Z" fill="#000"/>
<path d="M121.5 474.6L124.7 477.8L121.5 481L118.3 477.8Z" fill="#000"/>
<path d="M240.5 476.3L243.7 479.5L240.5 482.7L237.3 479.5Z" fill="#000"/>
<rect x="39.9" y="471.1" width="5.2" height="5.2" fill="#000" stroke="none" stroke-width="1"/>
<rect x="45.9" y="471.9" width="5.2" height="5.2" fill="#000" stroke="none" stroke-width="1"/>
<rect x="49.9" y="471.6" width="5.2" height="5.2" fill="#000" stroke="none" stroke-width="1"/>
<rect x="59.9" y="477.4" width="5.2" height="5.2" fill="#000" stroke="none" stroke-width="1"/>
<rect x="78.9" y="476" width="5.2" height="5.2" fill="#000" stroke="none" stroke-width="1"/>
<rect x="118.9" y="475.2" width="5.2" height="5.2" fill="#000" stroke="none" stroke-width="1"/>
<rect x="237.9" y="472.7" width="5.2" height="5.2" fill="#000" stroke="none" stroke-width="1"/>
<path d="M48.5 464.8L51.7 470.56L45.3 470.56Z" fill="#000"/>
<path d="M52.5 465.8L55.7 471.56L49.3 471.56Z" fill="#000"/>
<path d="M81.5 464.3L84.7 470.06L78.3 470.06Z" fill="#000"/>
<path d="M121.5 465.6L124.7 471.36L118.3 471.36Z" fill="#000"/>
<path d="M240.5 471.4L243.7 477.16L237.3 477.16Z" fill="#000"/>
<rect x="54.5" y="555.5" width="76" height="49" fill="none" stroke="#3a3a3a" stroke-width="1"/>
<line x1="60" y1="565.2" x2="82" y2="565.2" stroke="#333" stroke-width="1"/>
<rect x="68.2" y="562.6" width="5.2" height="5.2" fill="#000" stroke="none" stroke-width="1"/>
<text x="91.5" y="568.9" font-family='"Liberation Serif", serif' font-size="10.8" font-weight="normal" text-anchor="start" fill="#2c2c2c">CEM</text>
<line x1="60" y1="580.8" x2="82" y2="580.8" stroke="#333" stroke-width="1"/>
<path d="M70.8 577.6L74 580.8L70.8 584L67.6 580.8Z" fill="#000"/>
<text x="91.5" y="584.5" font-family='"Liberation Serif", serif' font-size="10.8" font-weight="normal" text-anchor="start" fill="#2c2c2c">HEL-92</text>
<line x1="60" y1="595.5" x2="82" y2="595.5" stroke="#333" stroke-width="1"/>
<path d="M70.8 592.3L74 598.06L67.6 598.06Z" fill="#000"/>
<text x="91.5" y="599.2" font-family='"Liberation Serif", serif' font-size="10.8" font-weight="normal" text-anchor="start" fill="#2c2c2c">HL60</text>
<line x1="308.5" y1="463" x2="308.5" y2="618.5" stroke="#3a3a3a" stroke-width="1"/>
<line x1="305" y1="615.5" x2="507.5" y2="615.5" stroke="#3a3a3a" stroke-width="1"/>
<line x1="305" y1="615.5" x2="308.5" y2="615.5" stroke="#3a3a3a" stroke-width="1"/>
<text x="301.5" y="619.9" font-family='"Liberation Serif", serif' font-size="10.3" font-weight="normal" text-anchor="end" fill="#303030">0</text>
<line x1="305" y1="577.5" x2="308.5" y2="577.5" stroke="#3a3a3a" stroke-width="1"/>
<text x="301.5" y="581.92" font-family='"Liberation Serif", serif' font-size="10.3" font-weight="normal" text-anchor="end" fill="#303030">25</text>
<line x1="305" y1="539.5" x2="308.5" y2="539.5" stroke="#3a3a3a" stroke-width="1"/>
<text x="301.5" y="543.95" font-family='"Liberation Serif", serif' font-size="10.3" font-weight="normal" text-anchor="end" fill="#303030">50</text>
<line x1="305" y1="501.5" x2="308.5" y2="501.5" stroke="#3a3a3a" stroke-width="1"/>
<text x="301.5" y="505.97" font-family='"Liberation Serif", serif' font-size="10.3" font-weight="normal" text-anchor="end" fill="#303030">75</text>
<line x1="305" y1="463.5" x2="308.5" y2="463.5" stroke="#3a3a3a" stroke-width="1"/>
<text x="301.5" y="468" font-family='"Liberation Serif", serif' font-size="10.3" font-weight="normal" text-anchor="end" fill="#303030">100</text>
<line x1="376.5" y1="612.5" x2="376.5" y2="618.5" stroke="#3a3a3a" stroke-width="1"/>
<line x1="439.5" y1="612.5" x2="439.5" y2="618.5" stroke="#3a3a3a" stroke-width="1"/>
<line x1="506.5" y1="612.5" x2="506.5" y2="618.5" stroke="#3a3a3a" stroke-width="1"/>
<rect x="318.5" y="469.5" width="11" height="146" fill="#fff" stroke="#333" stroke-width="1"/>
<line x1="324.5" y1="462.5" x2="324.5" y2="478.5" stroke="#333" stroke-width="1"/>
<line x1="322" y1="462.5" x2="327" y2="462.5" stroke="#333" stroke-width="1"/>
<line x1="322" y1="478.5" x2="327" y2="478.5" stroke="#333" stroke-width="1"/>
<rect x="332.5" y="534.5" width="11" height="81" fill="#b7b7b7" stroke="#333" stroke-width="1"/>
<line x1="337.5" y1="530.5" x2="337.5" y2="538.5" stroke="#333" stroke-width="1"/>
<line x1="335" y1="530.5" x2="340" y2="530.5" stroke="#333" stroke-width="1"/>
<line x1="335" y1="538.5" x2="340" y2="538.5" stroke="#333" stroke-width="1"/>
<rect x="346.5" y="474.5" width="11" height="141" fill="#6f6f6f" stroke="#333" stroke-width="1"/>
<line x1="351.5" y1="468.5" x2="351.5" y2="480.5" stroke="#333" stroke-width="1"/>
<line x1="349" y1="468.5" x2="354" y2="468.5" stroke="#333" stroke-width="1"/>
<line x1="349" y1="480.5" x2="354" y2="480.5" stroke="#333" stroke-width="1"/>
<rect x="360.5" y="530.5" width="11" height="85" fill="#000" stroke="#333" stroke-width="1"/>
<line x1="366.5" y1="527.5" x2="366.5" y2="533.5" stroke="#333" stroke-width="1"/>
<line x1="364" y1="527.5" x2="369" y2="527.5" stroke="#333" stroke-width="1"/>
<line x1="364" y1="533.5" x2="369" y2="533.5" stroke="#333" stroke-width="1"/>
<rect x="381.5" y="477.5" width="12" height="138" fill="#fff" stroke="#333" stroke-width="1"/>
<line x1="387.5" y1="469.5" x2="387.5" y2="486.5" stroke="#333" stroke-width="1"/>
<line x1="385" y1="469.5" x2="390" y2="469.5" stroke="#333" stroke-width="1"/>
<line x1="385" y1="486.5" x2="390" y2="486.5" stroke="#333" stroke-width="1"/>
<rect x="395.5" y="523.5" width="12" height="92" fill="#b7b7b7" stroke="#333" stroke-width="1"/>
<line x1="401.5" y1="517.5" x2="401.5" y2="529.5" stroke="#333" stroke-width="1"/>
<line x1="399" y1="517.5" x2="404" y2="517.5" stroke="#333" stroke-width="1"/>
<line x1="399" y1="529.5" x2="404" y2="529.5" stroke="#333" stroke-width="1"/>
<rect x="409.5" y="472.5" width="12" height="143" fill="#6f6f6f" stroke="#333" stroke-width="1"/>
<line x1="415.5" y1="468.5" x2="415.5" y2="476.5" stroke="#333" stroke-width="1"/>
<line x1="413" y1="468.5" x2="418" y2="468.5" stroke="#333" stroke-width="1"/>
<line x1="413" y1="476.5" x2="418" y2="476.5" stroke="#333" stroke-width="1"/>
<rect x="423.5" y="528.5" width="12" height="87" fill="#000" stroke="#333" stroke-width="1"/>
<line x1="429.5" y1="524.5" x2="429.5" y2="531.5" stroke="#333" stroke-width="1"/>
<line x1="427" y1="524.5" x2="432" y2="524.5" stroke="#333" stroke-width="1"/>
<line x1="427" y1="531.5" x2="432" y2="531.5" stroke="#333" stroke-width="1"/>
<rect x="443.5" y="472.5" width="12" height="143" fill="#fff" stroke="#333" stroke-width="1"/>
<line x1="449.5" y1="467.5" x2="449.5" y2="478.5" stroke="#333" stroke-width="1"/>
<line x1="447" y1="467.5" x2="452" y2="467.5" stroke="#333" stroke-width="1"/>
<line x1="447" y1="478.5" x2="452" y2="478.5" stroke="#333" stroke-width="1"/>
<rect x="457.5" y="532.5" width="12" height="83" fill="#b7b7b7" stroke="#333" stroke-width="1"/>
<line x1="463.5" y1="529.5" x2="463.5" y2="535.5" stroke="#333" stroke-width="1"/>
<line x1="461" y1="529.5" x2="466" y2="529.5" stroke="#333" stroke-width="1"/>
<line x1="461" y1="535.5" x2="466" y2="535.5" stroke="#333" stroke-width="1"/>
<rect x="472.5" y="478.5" width="11" height="137" fill="#6f6f6f" stroke="#333" stroke-width="1"/>
<line x1="477.5" y1="472.5" x2="477.5" y2="484.5" stroke="#333" stroke-width="1"/>
<line x1="475" y1="472.5" x2="480" y2="472.5" stroke="#333" stroke-width="1"/>
<line x1="475" y1="484.5" x2="480" y2="484.5" stroke="#333" stroke-width="1"/>
<rect x="486.5" y="525.5" width="11" height="90" fill="#000" stroke="#333" stroke-width="1"/>
<line x1="492.5" y1="521.5" x2="492.5" y2="528.5" stroke="#333" stroke-width="1"/>
<line x1="490" y1="521.5" x2="495" y2="521.5" stroke="#333" stroke-width="1"/>
<line x1="490" y1="528.5" x2="495" y2="528.5" stroke="#333" stroke-width="1"/>
<text x="345.5" y="631.5" font-family='"Liberation Serif", serif' font-size="10.3" font-weight="normal" text-anchor="middle" fill="#2c2c2c">CEM</text>
<text x="410.5" y="631.5" font-family='"Liberation Serif", serif' font-size="10.3" font-weight="normal" text-anchor="middle" fill="#2c2c2c">HEL-92</text>
<text x="472" y="631.5" font-family='"Liberation Serif", serif' font-size="10.3" font-weight="normal" text-anchor="middle" fill="#2c2c2c">HL60</text>
<text x="0" y="0" font-family='"Liberation Serif", serif' font-size="13.8" font-weight="bold" text-anchor="middle" fill="#111" stroke="#111" stroke-width="0.3" transform="translate(409.5 652.5) scale(1 0.93)">Cell line</text>
<text x="279.2" y="548.8" font-family='"Liberation Serif", serif' font-size="14.1" font-weight="bold" text-anchor="middle" fill="#111" stroke="#111" stroke-width="0.3" transform="rotate(-90 279.2 548.8)">Percent viability</text>
</svg>
</body></html>
